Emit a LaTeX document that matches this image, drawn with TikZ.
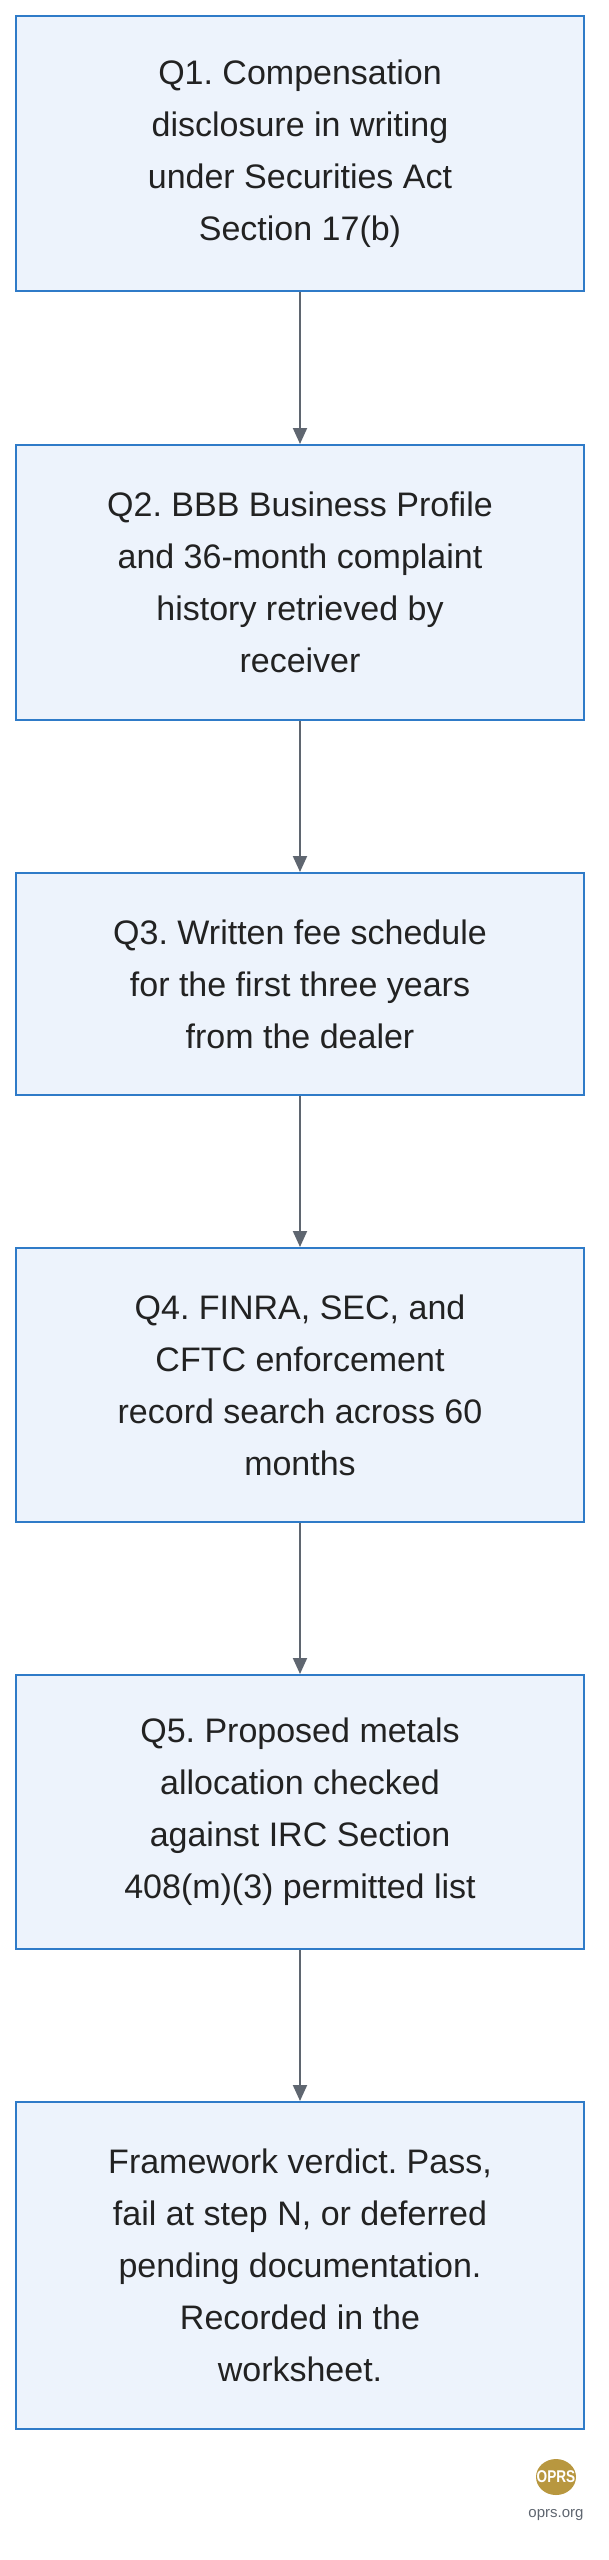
\documentclass[tikz,border=0pt]{standalone}
\usepackage{fontspec}
\setmainfont{Liberation Sans}
\usetikzlibrary{arrows.meta,shapes.geometric}
\definecolor{boxfill}{HTML}{EDF3FC}
\definecolor{boxline}{HTML}{2F7BC8}
\definecolor{arr}{HTML}{5F6670}
\definecolor{txt}{HTML}{222222}
\definecolor{gold}{HTML}{B8973F}
\frenchspacing
\begin{document}
\begin{tikzpicture}[x=1pt,y=-1pt,
  box/.style={draw=boxline,line width=2pt,fill=boxfill,minimum width=568pt,align=center,inner sep=0pt,
    font=\fontsize{34}{52}\selectfont,text=txt},
  conn/.style={draw=arr,line width=2pt,-{Triangle[length=16pt,width=14pt]}}]
\useasboundingbox (0,0) rectangle (608,2560);
\node[box,minimum height=275pt] (q1) at (300,153.5) {Q1. Compensation\\disclosure in writing\\under Securities Act\\Section 17(b)};
\node[box,minimum height=275pt] (q2) at (300,582.5) {Q2. BBB Business Profile\\and 36-month complaint\\history retrieved by\\receiver};
\node[box,minimum height=222pt] (q3) at (300,984) {Q3. Written fee schedule\\for the first three years\\from the dealer};
\node[box,minimum height=274pt] (q4) at (300,1385) {Q4. FINRA, SEC, and\\CFTC enforcement\\record search across 60\\months};
\node[box,minimum height=274pt] (q5) at (300,1812) {Q5. Proposed metals\\allocation checked\\against IRC Section\\408(m)(3) permitted list};
\node[box,minimum height=327pt] (q6) at (300,2265.5) {Framework verdict. Pass,\\fail at step N, or deferred\\pending documentation.\\Recorded in the\\worksheet.};
\draw[conn] (q1) -- (q2);
\draw[conn] (q2) -- (q3);
\draw[conn] (q3) -- (q4);
\draw[conn] (q4) -- (q5);
\draw[conn] (q5) -- (q6);
\node[ellipse,fill=gold,minimum width=40pt,minimum height=36pt,inner sep=0pt] (logo) at (556,2477) {};
\node[font=\bfseries\fontsize{17}{17}\selectfont,text=white,xscale=0.8] (logotext) at (logo) {OPRS};
\node[font=\fontsize{15}{15}\selectfont,text=arr] (url) at (556,2515) {oprs.org};
\end{tikzpicture}
\end{document}
